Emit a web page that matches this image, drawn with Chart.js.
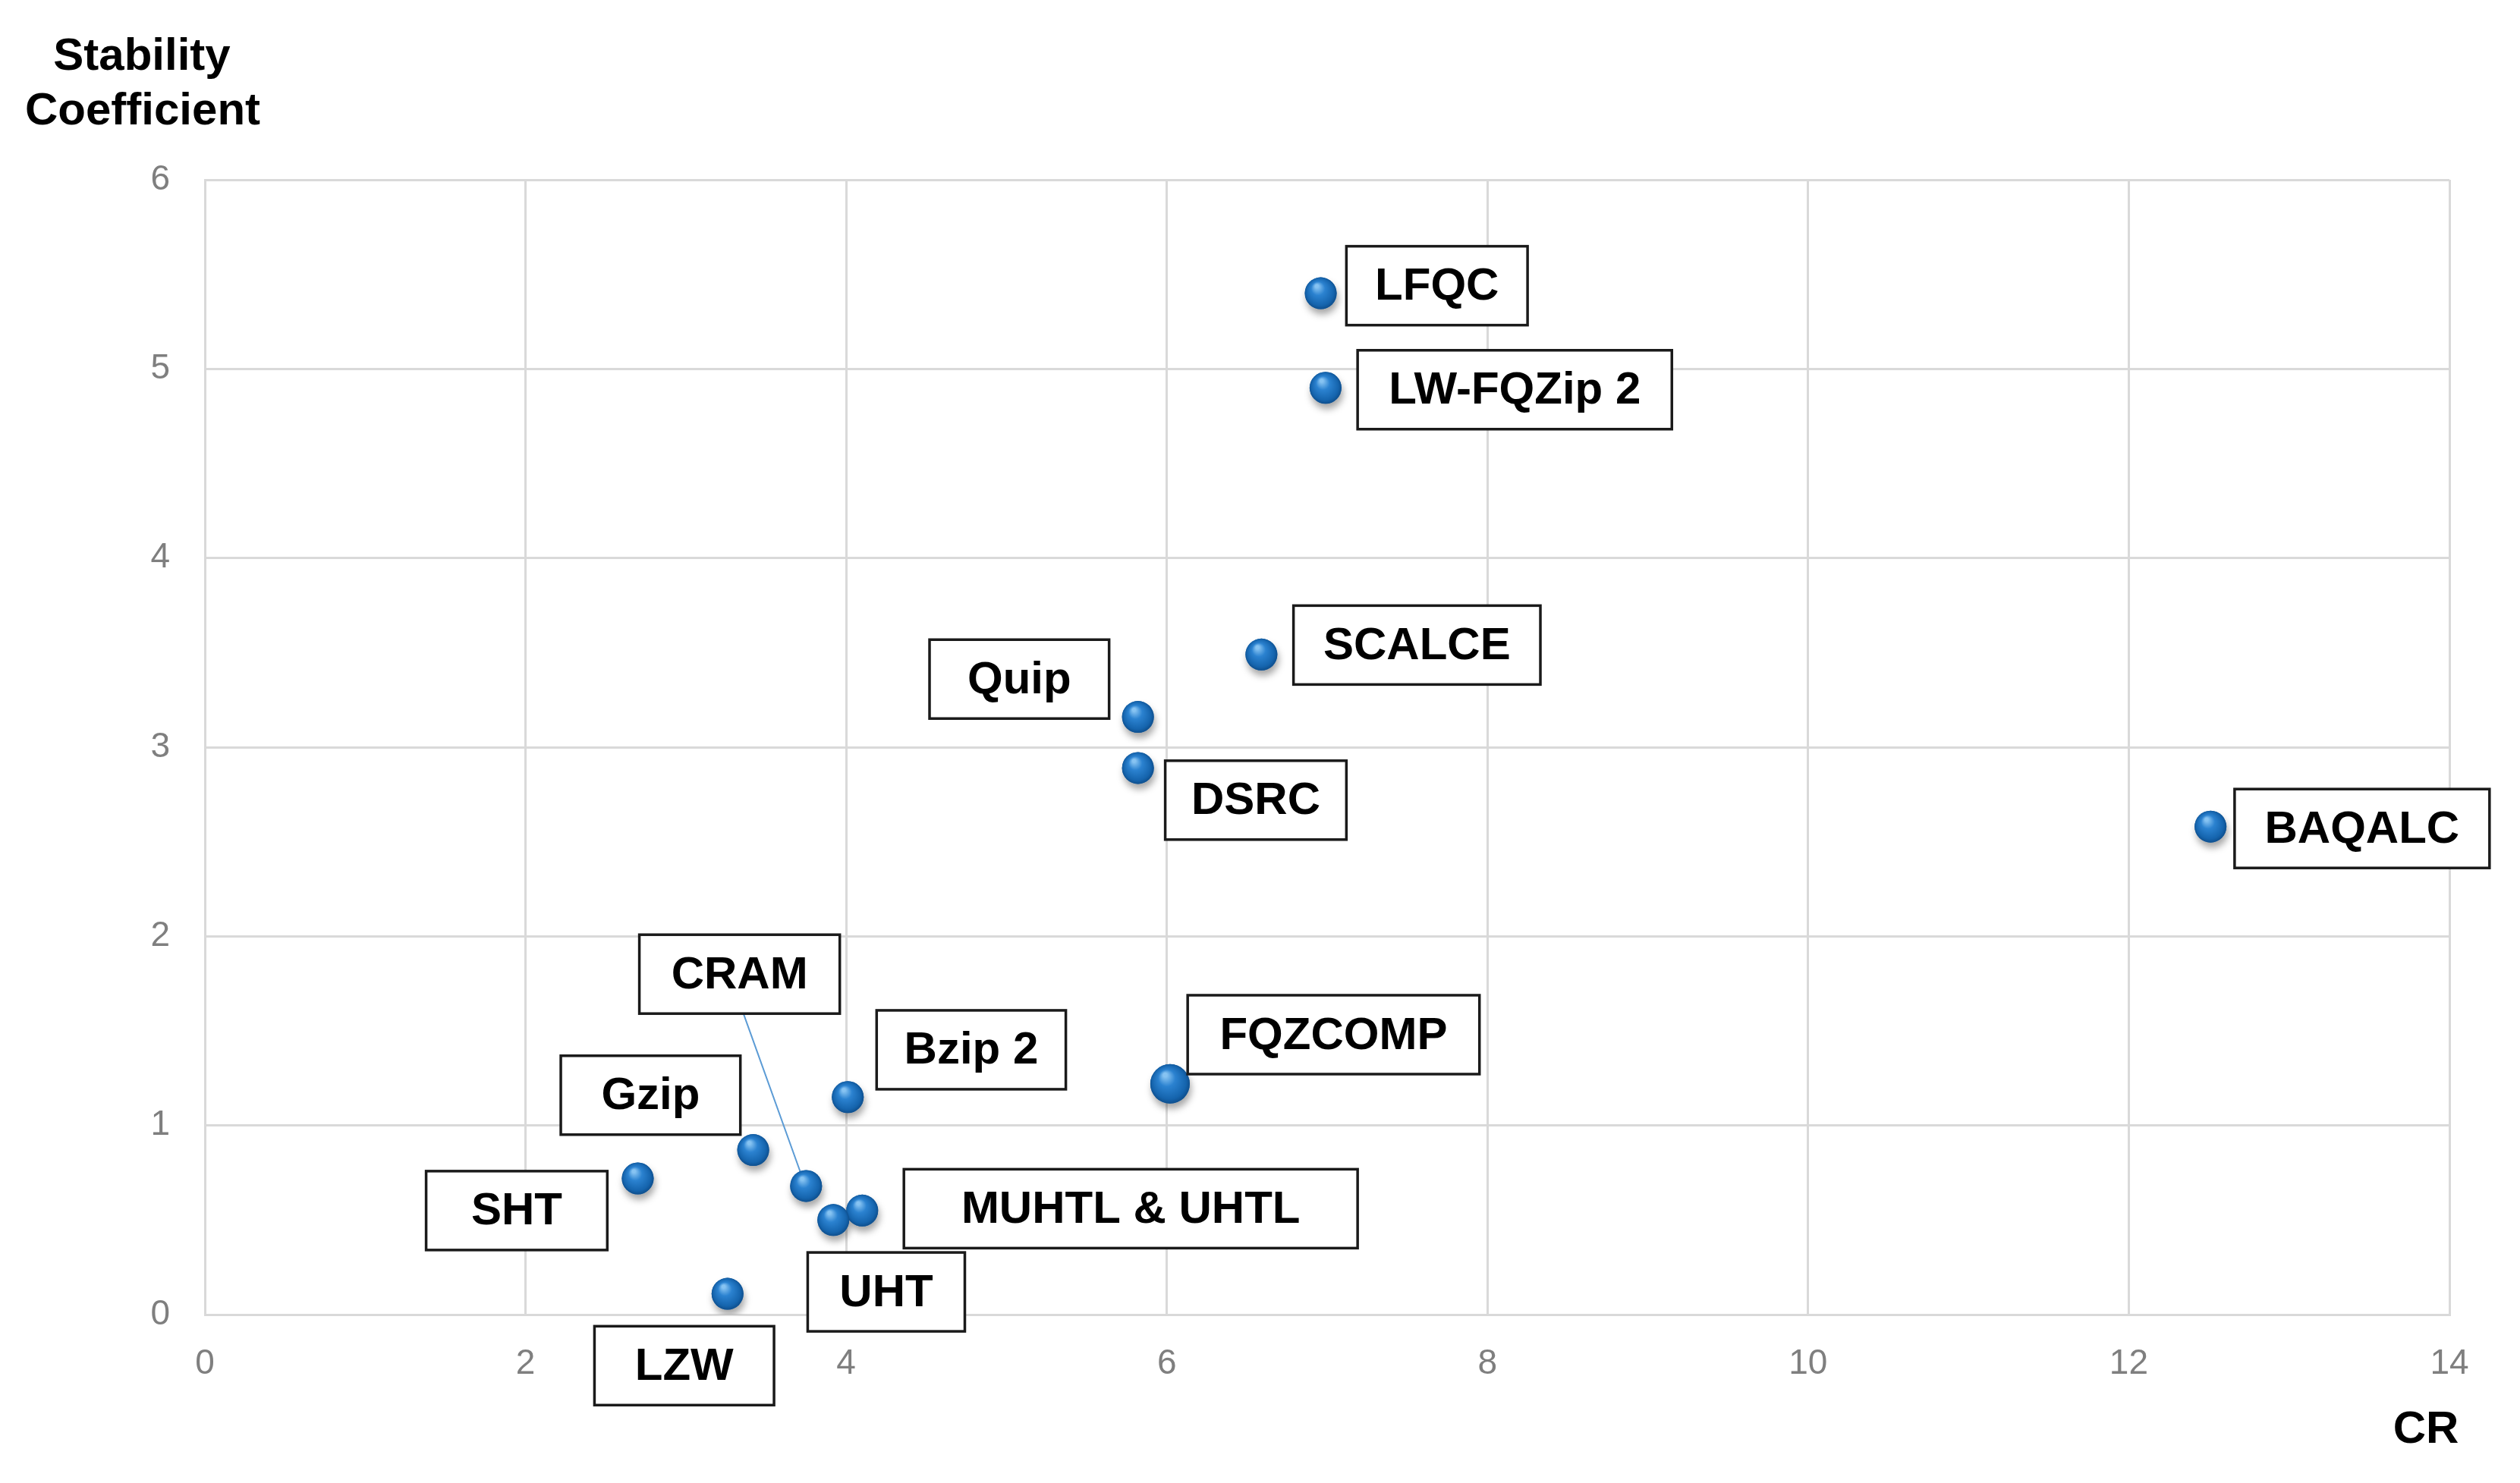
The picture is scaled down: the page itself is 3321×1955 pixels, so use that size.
<!DOCTYPE html>
<html>
<head>
<meta charset="utf-8">
<title>Stability Coefficient vs CR</title>
<script src="https://cdn.jsdelivr.net/npm/chart.js@4.4.1/dist/chart.umd.min.js"></script>
<style>
  html, body { margin: 0; padding: 0; background: #ffffff; }
  #wrap { width: 3321px; height: 1955px; position: relative; }
</style>
</head>
<body>
<div id="wrap"><canvas id="scatterChart"></canvas></div>
<script>
// Data
const methods = ["LFQC", "LW-FQZip 2", "SCALCE", "Quip", "DSRC", "BAQALC", "FQZCOMP",
  "Bzip 2", "CRAM", "Gzip", "SHT", "MUHTL & UHTL", "UHT", "LZW"];
const crValues = [6.96, 6.99, 6.59, 5.82, 5.82, 12.51, 6.02, 4.01, 3.75, 3.42, 2.70, 4.10, 3.92, 3.26];
const stabilityValues = [5.40, 4.90, 3.49, 3.16, 2.89, 2.58, 1.22, 1.15, 0.68, 0.87, 0.72, 0.55, 0.50, 0.11];

const xTitle = "CR";
const yTitle = ["Stability", "Coefficient"];
const xRange = [0, 14];
const yRange = [0, 6];

// Label box placement, in axis units (same order as methods)
const labelBoxes = [
  { from: 7.12, to: 8.25, at: 5.44 },
  { from: 7.19, to: 9.15, at: 4.89 },
  { from: 6.79, to: 8.33, at: 3.54 },
  { from: 4.52, to: 5.64, at: 3.36 },
  { from: 5.99, to: 7.12, at: 2.72 },
  { from: 12.66, to: 14.25, at: 2.57 },
  { from: 6.13, to: 7.95, at: 1.48 },
  { from: 4.19, to: 5.37, at: 1.40 },
  { from: 2.71, to: 3.96, at: 1.80 },
  { from: 2.22, to: 3.34, at: 1.16 },
  { from: 1.38, to: 2.51, at: 0.55 },
  { from: 4.36, to: 7.19, at: 0.56 },
  { from: 3.76, to: 4.74, at: 0.12 },
  { from: 2.43, to: 3.55, at: -0.27 }
];
// CRAM leader line
const cramLeader = { from: { x: 3.36, y: 1.59 }, to: { x: 3.72, y: 0.74 } };

Chart.defaults.font.family = "'Liberation Sans', Arial, sans-serif";
Chart.defaults.animation = false;

function pointSize(ctx) {
  return methods[ctx.dataIndex] === "FQZCOMP" ? 26 : 21;
}

// Draws shadows, sphere shading, label boxes, leader line and axis titles
const decorations = {
  id: "decorations",
  beforeDatasetsDraw(chart) {
    const { ctx, scales } = chart;
    ctx.save();
    ctx.strokeStyle = "#5b9bd5";
    ctx.lineWidth = 2;
    ctx.beginPath();
    ctx.moveTo(scales.x.getPixelForValue(cramLeader.from.x), scales.y.getPixelForValue(cramLeader.from.y));
    ctx.lineTo(scales.x.getPixelForValue(cramLeader.to.x), scales.y.getPixelForValue(cramLeader.to.y));
    ctx.stroke();
    ctx.restore();
  },
  beforeDatasetDraw(chart) {
    const ctx = chart.ctx;
    ctx.save();
    ctx.shadowColor = "rgba(0, 0, 0, 0.35)";
    ctx.shadowBlur = 10;
    ctx.shadowOffsetX = 2;
    ctx.shadowOffsetY = 7;
  },
  afterDatasetDraw(chart, args) {
    const ctx = chart.ctx;
    ctx.restore();
    // shade each marker so it looks like a ball
    ctx.save();
    args.meta.data.forEach((pt) => {
      const r = pt.options.radius;
      const g = ctx.createRadialGradient(pt.x - r * 0.25, pt.y - r * 0.45, r * 0.1, pt.x, pt.y, r * 1.05);
      g.addColorStop(0, "#86c3f2");
      g.addColorStop(0.35, "#2b82d0");
      g.addColorStop(0.8, "#1564ad");
      g.addColorStop(1, "#0d4a86");
      ctx.fillStyle = g;
      ctx.beginPath();
      ctx.arc(pt.x, pt.y, r, 0, Math.PI * 2);
      ctx.fill();
    });
    ctx.restore();
  },
  afterDatasetsDraw(chart) {
    const { ctx, scales } = chart;
    const boxH = 104;
    ctx.save();
    ctx.font = "bold 60px 'Liberation Sans', Arial, sans-serif";
    ctx.textAlign = "center";
    ctx.textBaseline = "middle";
    labelBoxes.forEach((b, i) => {
      const x1 = scales.x.getPixelForValue(b.from);
      const x2 = scales.x.getPixelForValue(b.to);
      const cy = scales.y.getPixelForValue(b.at);
      ctx.fillStyle = "#ffffff";
      ctx.fillRect(x1, cy - boxH / 2, x2 - x1, boxH);
      ctx.strokeStyle = "#1a1a1a";
      ctx.lineWidth = 3.5;
      ctx.strokeRect(x1, cy - boxH / 2, x2 - x1, boxH);
      ctx.fillStyle = "#000000";
      ctx.fillText(methods[i], (x1 + x2) / 2, cy + 2);
    });
    ctx.restore();
  },
  afterDraw(chart) {
    const ctx = chart.ctx;
    ctx.save();
    ctx.fillStyle = "#000000";
    ctx.font = "bold 60px 'Liberation Sans', Arial, sans-serif";
    ctx.textAlign = "center";
    ctx.textBaseline = "alphabetic";
    ctx.fillText(yTitle[0], 187, 92);
    ctx.fillText(yTitle[1], 188, 164);
    ctx.fillText(xTitle, 3197, 1902);
    ctx.restore();
  }
};

// Chart Configuration
const chartConfig = {
  type: "scatter",
  data: {
    datasets: [{
      label: "Methods",
      data: crValues.map((x, i) => ({ x: x, y: stabilityValues[i] })),
      backgroundColor: "#1f6fba",
      borderWidth: 0,
      pointRadius: pointSize,
      pointHoverRadius: pointSize
    }]
  },
  options: {
    responsive: true,
    maintainAspectRatio: false,
    layout: { padding: { top: 237, right: 93, left: 0, bottom: 0 } },
    plugins: {
      legend: { display: false },
      tooltip: { enabled: false }
    },
    scales: {
      x: {
        type: "linear",
        min: xRange[0],
        max: xRange[1],
        afterFit: (scale) => { scale.height = 222; },
        grid: { color: "#d9d9d9", lineWidth: 3, drawTicks: false },
        border: { color: "#d9d9d9", width: 3 },
        ticks: { stepSize: 2, color: "#7f7f7f", padding: 38, font: { size: 46 } }
      },
      y: {
        type: "linear",
        min: yRange[0],
        max: yRange[1],
        afterFit: (scale) => { scale.width = 270; },
        grid: { color: "#d9d9d9", lineWidth: 3, drawTicks: false },
        border: { color: "#d9d9d9", width: 3 },
        ticks: { stepSize: 1, color: "#7f7f7f", padding: 46, font: { size: 46 } }
      }
    }
  },
  plugins: [decorations]
};

const chart = new Chart(document.getElementById("scatterChart"), chartConfig);
</script>
</body>
</html>
